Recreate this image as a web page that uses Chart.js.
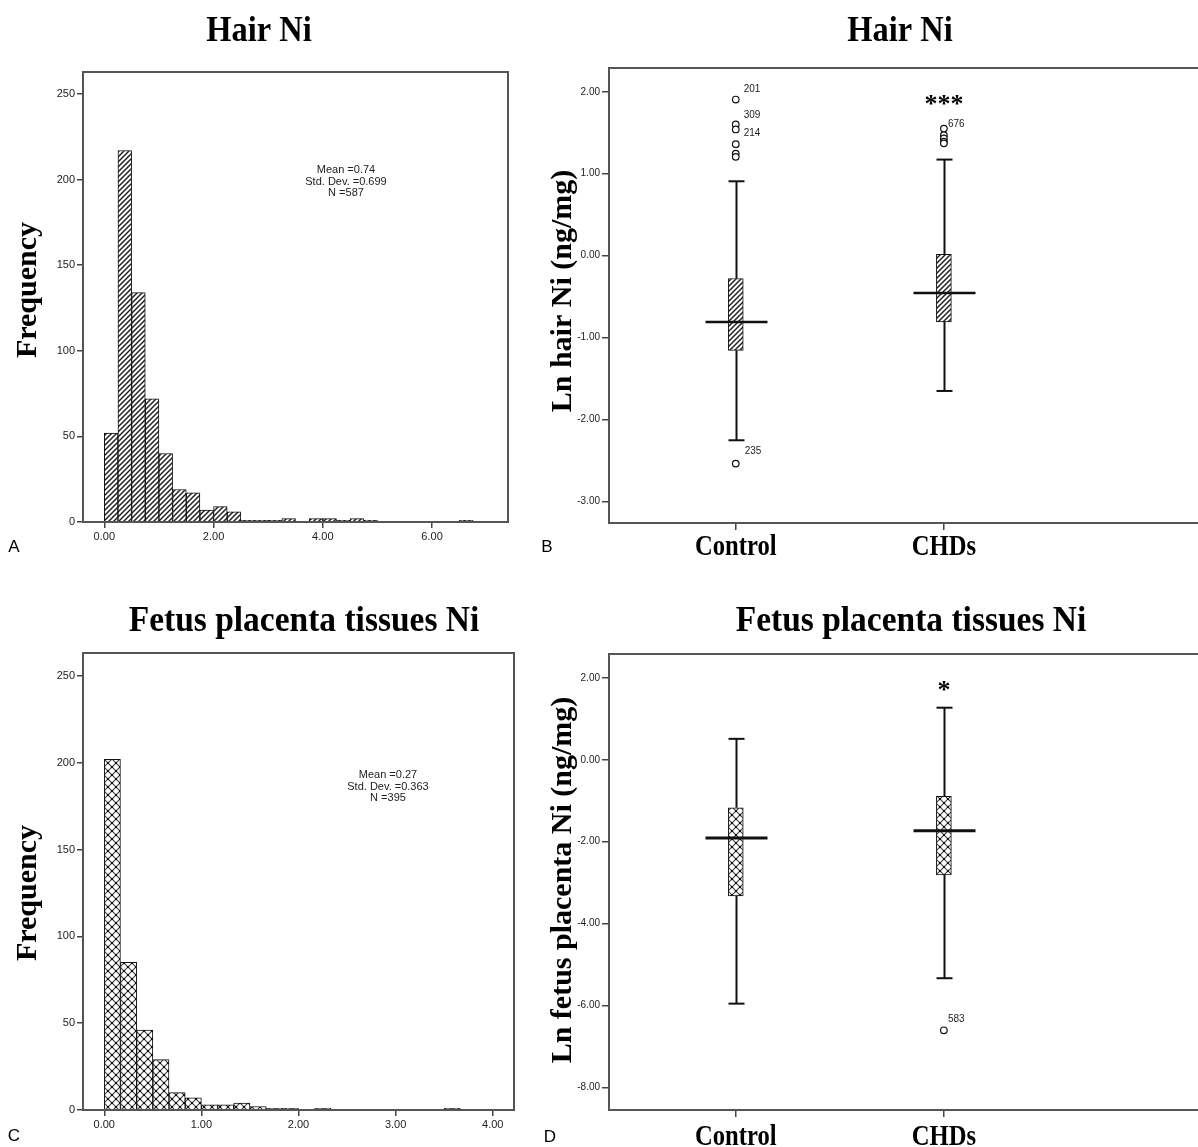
<!DOCTYPE html>
<html>
<head>
<meta charset="utf-8">
<script src="https://cdn.jsdelivr.net/npm/chart.js@4.4.0/dist/chart.umd.min.js"></script>
<style>
  body { margin: 0; background: #fff; }
  #wrap { position: relative; width: 1198px; height: 1147px; overflow: hidden; }
  canvas { position: absolute; }
</style>
</head>
<body>
<div id="wrap">
  <canvas id="panel-a" width="540" height="575" style="left:0;top:0"></canvas>
  <canvas id="panel-b" width="658" height="575" style="left:540px;top:0"></canvas>
  <canvas id="panel-c" width="540" height="572" style="left:0;top:575px"></canvas>
  <canvas id="panel-d" width="658" height="572" style="left:540px;top:575px"></canvas>
</div>
<script>
// ---- data ----
// A: hair Ni histogram, bins of 0.25 starting at 0
const hairBinWidth = 0.25;
const hairCounts = [52, 217, 134, 72, 40, 19, 17, 7, 9, 6, 1, 1, 1, 2, 0, 2, 2, 1, 2, 1, 0, 0, 0, 0, 0, 0, 1];
const hairXTicks = [0, 2, 4, 6];
const freqTicks = [0, 50, 100, 150, 200, 250];
const hairStats = ['Mean =0.74', 'Std. Dev. =0.699', 'N =587'];

// C: fetus placenta Ni histogram, bins of 1/6 starting at 0
const placBinWidth = 1 / 6;
const placCounts = [202, 85, 46, 29, 10, 7, 3, 3, 4, 2, 1, 1, 0, 1, 0, 0, 0, 0, 0, 0, 0, 1];
const placXTicks = [0, 1, 2, 3, 4];
const placStats = ['Mean =0.27', 'Std. Dev. =0.363', 'N =395'];

// B / D: box plots, one value per group
const groups = ['Control', 'CHDs'];

const hairLow = [-2.255, -1.653];
const hairQ1 = [-1.157, -0.81];
const hairMedian = [-0.81, -0.457];
const hairQ3 = [-0.28, 0.016];
const hairHigh = [0.907, 1.172];
const hairOutliers = [[1.905, 1.60, 1.54, 1.36, 1.245, 1.205, -2.54], [1.55, 1.47, 1.43, 1.39, 1.37]];
const hairOutlierIds = [['201', '309', '214', '', '', '', '235'], ['676', '', '', '', '']];
const hairBoxTicks = [2, 1, 0, -1, -2, -3];
const hairSig = ['', '***'];

const placLow = [-5.95, -5.33];
const placQ1 = [-3.32, -2.81];
const placMedian = [-1.91, -1.73];
const placQ3 = [-1.17, -0.89];
const placHigh = [0.51, 1.27];
const placOutliers = [[], [-6.60]];
const placOutlierIds = [[], ['583']];
const placBoxTicks = [2, 0, -2, -4, -6, -8];
const placSig = ['', '*'];

// ---- styles ----
const SERIF = '"Liberation Serif", "Times New Roman", serif';
const SANS = '"Liberation Sans", Arial, sans-serif';
const NARROW = '"Liberation Sans Narrow", "Liberation Sans", Arial, sans-serif';
const labelOffsets = { '201': [8, -8], '309': [8, -7], '214': [8, 7], '235': [9, -10], '676': [4, -2], '583': [4, -8] };

function hatchPattern() {
  const c = document.createElement('canvas');
  c.width = 5; c.height = 5;
  const g = c.getContext('2d');
  g.fillStyle = '#fff'; g.fillRect(0, 0, 5, 5);
  g.strokeStyle = '#222'; g.lineWidth = 1.5;
  g.beginPath();
  g.moveTo(-1, 6); g.lineTo(6, -1);
  g.moveTo(-1, 1); g.lineTo(1, -1);
  g.moveTo(4, 6); g.lineTo(6, 4);
  g.stroke();
  return g.createPattern(c, 'repeat');
}

function crossPattern() {
  const c = document.createElement('canvas');
  c.width = 8; c.height = 8;
  const g = c.getContext('2d');
  g.fillStyle = '#fff'; g.fillRect(0, 0, 8, 8);
  g.strokeStyle = '#444'; g.lineWidth = 1.2;
  g.beginPath();
  g.moveTo(0, 0); g.lineTo(8, 8);
  g.moveTo(8, 0); g.lineTo(0, 8);
  g.stroke();
  g.fillStyle = '#111';
  g.fillRect(3, 3, 2, 2);
  [[0, 0], [8, 0], [0, 8], [8, 8]].forEach(([x, y]) => g.fillRect(x - 1, y - 1, 2, 2));
  return g.createPattern(c, 'repeat');
}

function drawText(ctx, t) {
  ctx.save();
  ctx.translate(t.x, t.y);
  if (t.rotate) ctx.rotate(t.rotate);
  ctx.scale(t.sx || 1, 1);
  ctx.font = t.font;
  ctx.fillStyle = t.color || '#000';
  ctx.textAlign = t.align || 'center';
  ctx.textBaseline = t.baseline || 'alphabetic';
  ctx.fillText(t.text, 0, 0);
  ctx.restore();
}

// frame round the plot area + all free text of a panel
function framePlugin(itemsFn, openRight) {
  return {
    id: 'frameText',
    afterDraw(chart) {
      const { ctx, chartArea: a } = chart;
      ctx.save();
      ctx.strokeStyle = '#555';
      ctx.lineWidth = 2;
      ctx.beginPath();
      if (openRight) {
        ctx.moveTo(chart.width, a.top); ctx.lineTo(a.left, a.top);
        ctx.lineTo(a.left, a.bottom); ctx.lineTo(chart.width, a.bottom);
      } else {
        ctx.rect(a.left, a.top, a.right - a.left, a.bottom - a.top);
      }
      ctx.stroke();
      ctx.restore();
      itemsFn(chart).forEach(t => drawText(ctx, t));
    }
  };
}

// whiskers, caps and median lines of the box plots
function whiskerPlugin(low, q1, med, q3, high, medWidth) {
  return {
    id: 'whiskers',
    afterDatasetsDraw(chart) {
      const { ctx, scales: { x, y } } = chart;
      const seg = (x1, y1, x2, y2) => { ctx.beginPath(); ctx.moveTo(x1, y1); ctx.lineTo(x2, y2); ctx.stroke(); };
      ctx.save();
      ctx.strokeStyle = '#111';
      groups.forEach((g, i) => {
        const px = Math.round(x.getPixelForValue(i + 1)) + 0.5;
        ctx.lineWidth = 2;
        seg(px, y.getPixelForValue(low[i]), px, y.getPixelForValue(q1[i]));
        seg(px, y.getPixelForValue(q3[i]), px, y.getPixelForValue(high[i]));
        seg(px - 8, y.getPixelForValue(low[i]), px + 8, y.getPixelForValue(low[i]));
        seg(px - 8, y.getPixelForValue(high[i]), px + 8, y.getPixelForValue(high[i]));
        ctx.lineWidth = medWidth;
        seg(px - 31, y.getPixelForValue(med[i]), px + 31, y.getPixelForValue(med[i]));
      });
      ctx.restore();
    }
  };
}

const noop = { legend: { display: false }, tooltip: { enabled: false } };

function tickScale(min, max, ticks, fmt, size, font, tickLen) {
  return {
    type: 'linear', min, max, offset: false,
    afterBuildTicks: s => { s.ticks = ticks.map(v => ({ value: v })); },
    afterFit: s => { if (s.isHorizontal()) s.height = size; else s.width = size; },
    border: { display: false },
    grid: { display: true, offset: false, drawOnChartArea: false, drawTicks: true, tickLength: tickLen, color: '#444', lineWidth: 1.5 },
    ticks: { callback: fmt, font, color: '#222', padding: 2, maxRotation: 0, autoSkip: false }
  };
}

function histogram(id, counts, binWidth, xr, yMax, xTicks, pattern, pad, items) {
  const points = counts.map((n, i) => ({ x: (i + 0.5) * binWidth, y: n }));
  return new Chart(document.getElementById(id), {
    type: 'bar',
    data: {
      datasets: [{
        data: points,
        backgroundColor: pattern,
        borderColor: '#111',
        borderWidth: c => (c.raw && c.raw.y ? 1 : 0),
        barPercentage: 1,
        categoryPercentage: 1
      }]
    },
    options: {
      responsive: false, animation: false, devicePixelRatio: 1,
      layout: { padding: pad },
      plugins: noop,
      scales: {
        x: tickScale(xr[0], xr[1], xTicks, v => v.toFixed(2), 30, { family: SANS, size: 11 }, 6),
        y: tickScale(0, yMax, freqTicks, v => String(v), 40, { family: SANS, size: 11 }, 6)
      }
    },
    plugins: [framePlugin(items, false)]
  });
}

function boxplot(id, low, q1, med, q3, high, outliers, ids, sig, yr, yTicks, pattern, pad, medWidth, items) {
  const boxes = groups.map((g, i) => ({ x: i + 1, y: [q1[i], q3[i]] }));
  const pts = [];
  outliers.forEach((list, i) => list.forEach((v, j) => pts.push({ x: i + 1, y: v, id: ids[i][j] })));
  return new Chart(document.getElementById(id), {
    type: 'bar',
    data: {
      datasets: [
        { data: boxes, backgroundColor: pattern, borderColor: '#111', borderWidth: 1, borderSkipped: false, barThickness: 15 },
        { type: 'scatter', data: pts, pointStyle: 'circle', pointRadius: 3.3, pointBackgroundColor: '#fff', pointBorderColor: '#111', pointBorderWidth: 1.2 }
      ]
    },
    options: {
      responsive: false, animation: false, devicePixelRatio: 1,
      layout: { padding: pad },
      plugins: noop,
      scales: {
        x: (() => {
          const s = tickScale(0.391, 3.196, [1, 2], () => '', 30, { family: SANS, size: 10 }, 7);
          s.ticks.display = false;
          return s;
        })(),
        y: tickScale(yr[0], yr[1], yTicks, v => v.toFixed(2), 60, { family: NARROW, size: 10 }, 7)
      }
    },
    plugins: [
      whiskerPlugin(low, q1, med, q3, high, medWidth),
      framePlugin(chart => {
        const { x, y } = chart.scales;
        const a = chart.chartArea;
        const list = items(chart);
        groups.forEach((g, i) => {
          list.push({ text: g, x: x.getPixelForValue(i + 1), y: list.catY, font: `bold 30px ${SERIF}`, sx: 0.82 });
          if (sig[i]) list.push({ text: sig[i], x: x.getPixelForValue(i + 1), y: a.top + 44, font: `bold 26px ${SERIF}` });
        });
        pts.filter(p => p.id).forEach(p => {
          const off = labelOffsets[p.id];
          list.push({ text: p.id, x: x.getPixelForValue(p.x) + off[0], y: y.getPixelForValue(p.y) + off[1], font: `10px ${NARROW}`, align: 'left', color: '#222' });
        });
        return list;
      }, true)
    ]
  });
}

const stats = (lines, cx, y0) => lines.map((s, i) => ({ text: s, x: cx, y: y0 + i * 11.5, font: `11px ${SANS}`, color: '#222' }));

histogram('panel-a', hairCounts, hairBinWidth, [-0.39, 7.39], 262.85, hairXTicks, hatchPattern(),
  { left: 43, top: 72, right: 32, bottom: 23 },
  () => [
    { text: 'Hair Ni', x: 259, y: 41, font: `bold 36px ${SERIF}`, sx: 0.9 },
    { text: 'Frequency', x: 28, y: 290, font: `bold 30px ${SERIF}`, rotate: -Math.PI / 2, baseline: 'middle' },
    { text: 'A', x: 14, y: 552, font: `17px ${SANS}` },
    ...stats(hairStats, 346, 173)
  ]);

histogram('panel-c', placCounts, placBinWidth, [-0.219, 4.219], 263.2, placXTicks, crossPattern(),
  { left: 43, top: 78, right: 26, bottom: 7 },
  () => [
    { text: 'Fetus placenta tissues Ni', x: 304, y: 56, font: `bold 36px ${SERIF}`, sx: 0.93 },
    { text: 'Frequency', x: 28, y: 318, font: `bold 30px ${SERIF}`, rotate: -Math.PI / 2, baseline: 'middle' },
    { text: 'C', x: 14, y: 566, font: `17px ${SANS}` },
    ...stats(placStats, 388, 203)
  ]);

boxplot('panel-b', hairLow, hairQ1, hairMedian, hairQ3, hairHigh, hairOutliers, hairOutlierIds, hairSig,
  [-3.265, 2.29], hairBoxTicks, hatchPattern(), { left: 9, top: 68, right: 0, bottom: 22 }, 2.5,
  () => Object.assign([
    { text: 'Hair Ni', x: 360, y: 41, font: `bold 36px ${SERIF}`, sx: 0.9 },
    { text: 'Ln hair Ni (ng/mg)', x: 23, y: 291, font: `bold 30px ${SERIF}`, rotate: -Math.PI / 2, baseline: 'middle' },
    { text: 'B', x: 7, y: 552, font: `17px ${SANS}` }
  ], { catY: 555 }));

boxplot('panel-d', placLow, placQ1, placMedian, placQ3, placHigh, placOutliers, placOutlierIds, placSig,
  [-8.545, 2.58], placBoxTicks, crossPattern(), { left: 9, top: 79, right: 0, bottom: 7 }, 3,
  () => Object.assign([
    { text: 'Fetus placenta tissues Ni', x: 371, y: 56, font: `bold 36px ${SERIF}`, sx: 0.93 },
    { text: 'Ln fetus placenta Ni (ng/mg)', x: 23, y: 305, font: `bold 30px ${SERIF}`, rotate: -Math.PI / 2, baseline: 'middle' },
    { text: 'D', x: 10, y: 567, font: `17px ${SANS}` }
  ], { catY: 570 }));
</script>
</body>
</html>
